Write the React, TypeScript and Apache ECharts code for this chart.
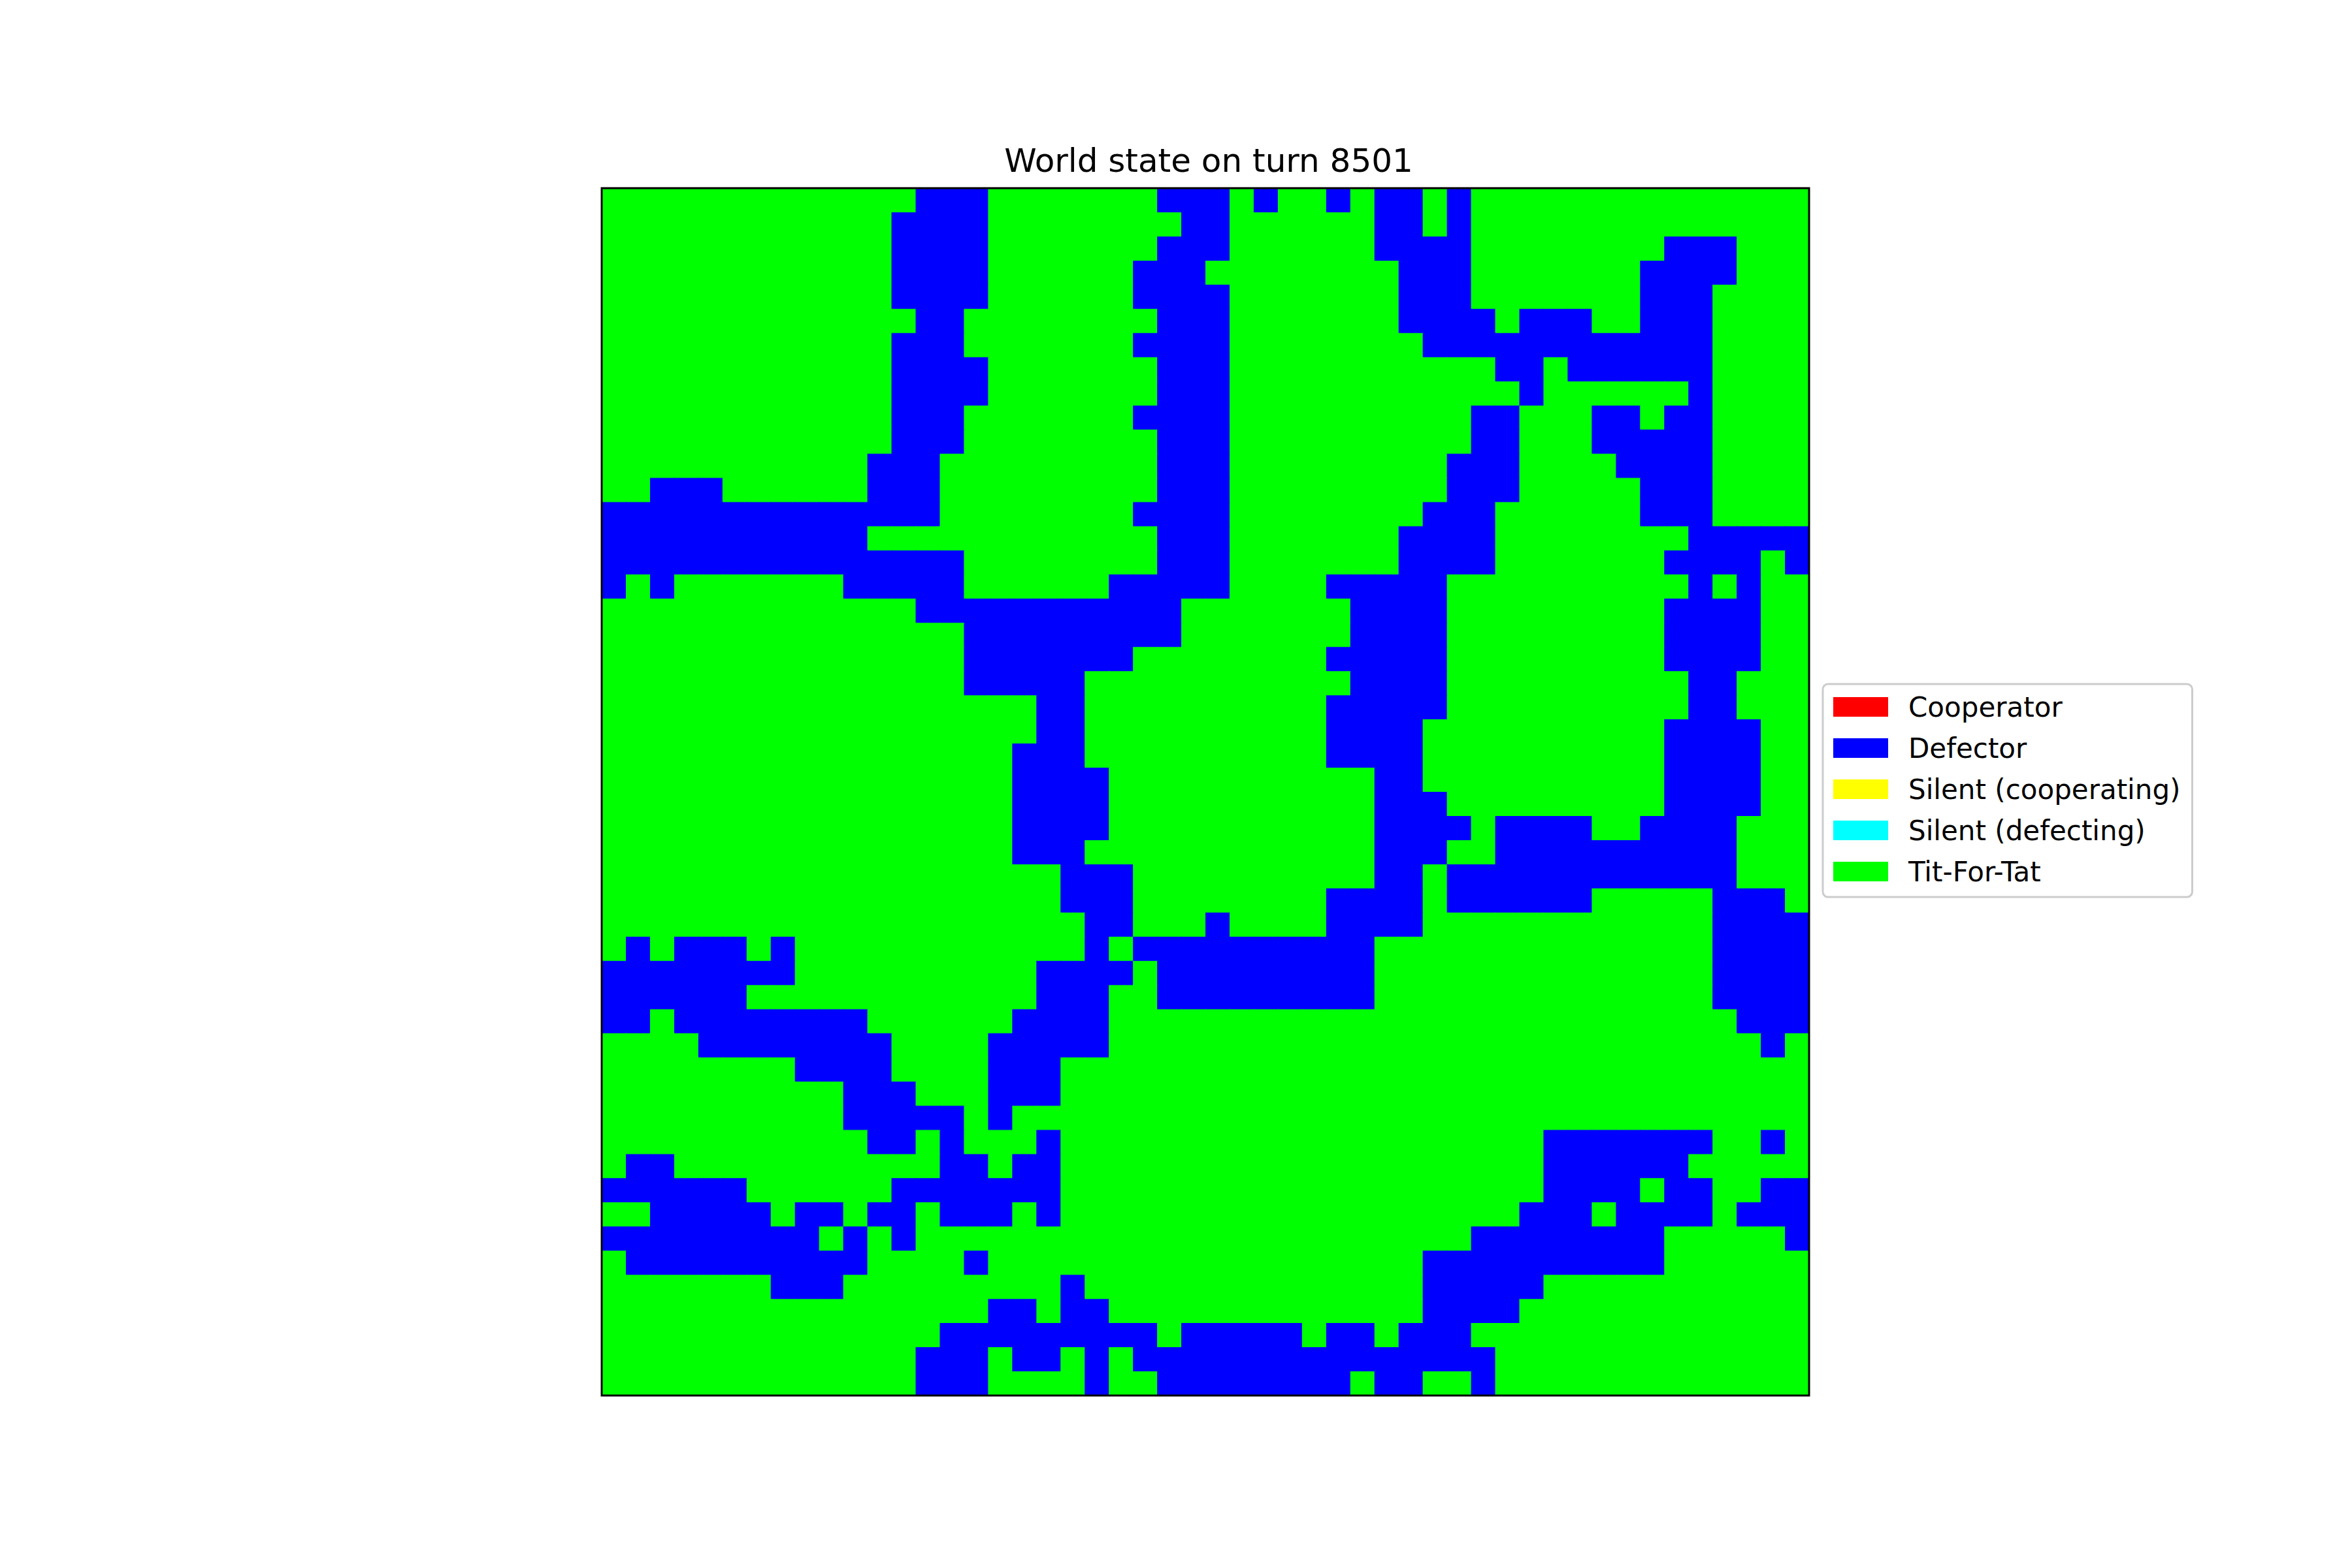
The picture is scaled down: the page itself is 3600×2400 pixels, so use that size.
import React, { useEffect, useRef } from "react";
import * as echarts from "echarts";

const TITLE = "World state on turn 8501";
const STATES = ["Cooperator", "Defector", "Silent (cooperating)", "Silent (defecting)", "Tit-For-Tat"];
const STATE_COLORS = ["#ff0000", "#0000ff", "#ffff00", "#00ffff", "#00ff00"];
const CODE_TO_STATE: Record<string, string> = { B: "Defector", G: "Tit-For-Tat" };

// 50 x 50 world, one string per row (top row first); B = Defector, G = Tit-For-Tat
const GRID_ROWS = [
  "GGGGGGGGGGGGG BBBGGGGGGGBBB GBGGBGBBGBGG GGGGGGGGGGGG",
  "GGGGGGGGGGGGB BBBGGGGGGGGBB GGGGGGBBGBGG GGGGGGGGGGGG",
  "GGGGGGGGGGGGB BBBGGGGGGGBBB GGGGGGBBBBGG GGGGGGBBBGGG",
  "GGGGGGGGGGGGB BBBGGGGGGBBBG GGGGGGGBBBGG GGGGGBBBBGGG",
  "GGGGGGGGGGGGB BBBGGGGGGBBBB GGGGGGGBBBGG GGGGGBBBGGGG",
  "GGGGGGGGGGGGG BBGGGGGGGGBBB GGGGGGGBBBBG BBBGGBBBGGGG",
  "GGGGGGGGGGGGB BBGGGGGGGBBBB GGGGGGGGBBBB BBBBBBBBGGGG",
  "GGGGGGGGGGGGB BBBGGGGGGGBBB GGGGGGGGGGGB BGBBBBBBGGGG",
  "GGGGGGGGGGGGB BBBGGGGGGGBBB GGGGGGGGGGGG BGGGGGGBGGGG",
  "GGGGGGGGGGGGB BBGGGGGGGBBBB GGGGGGGGGGBB GGGBBGBBGGGG",
  "GGGGGGGGGGGGB BBGGGGGGGGBBB GGGGGGGGGGBB GGGBBBBBGGGG",
  "GGGGGGGGGGGBB BGGGGGGGGGBBB GGGGGGGGGBBB GGGGBBBBGGGG",
  "GGBBBGGGGGGBB BGGGGGGGGGBBB GGGGGGGGGBBB GGGGGBBBGGGG",
  "BBBBBBBBBBBBB BGGGGGGGGBBBB GGGGGGGGBBBG GGGGGBBBGGGG",
  "BBBBBBBBBBBGG GGGGGGGGGGBBB GGGGGGGBBBBG GGGGGGGBBBBB",
  "BBBBBBBBBBBBB BBGGGGGGGGBBB GGGGGGGBBBBG GGGGGGBBBBGB",
  "BGBGGGGGGGBBB BBGGGGGGBBBBB GGGGBBBBBGGG GGGGGGGBGBGG",
  "GGGGGGGGGGGGG BBBBBBBBBBBGG GGGGGBBBBGGG GGGGGGBBBBGG",
  "GGGGGGGGGGGGG GGBBBBBBBBBGG GGGGGBBBBGGG GGGGGGBBBBGG",
  "GGGGGGGGGGGGG GGBBBBBBBGGGG GGGGBBBBBGGG GGGGGGBBBBGG",
  "GGGGGGGGGGGGG GGBBBBBGGGGGG GGGGGBBBBGGG GGGGGGGBBGGG",
  "GGGGGGGGGGGGG GGGGGBBGGGGGG GGGGBBBBBGGG GGGGGGGBBGGG",
  "GGGGGGGGGGGGG GGGGGBBGGGGGG GGGGBBBBGGGG GGGGGGBBBBGG",
  "GGGGGGGGGGGGG GGGGBBBGGGGGG GGGGBBBBGGGG GGGGGGBBBBGG",
  "GGGGGGGGGGGGG GGGGBBBBGGGGG GGGGGGBBGGGG GGGGGGBBBBGG",
  "GGGGGGGGGGGGG GGGGBBBBGGGGG GGGGGGBBBGGG GGGGGGBBBBGG",
  "GGGGGGGGGGGGG GGGGBBBBGGGGG GGGGGGBBBBGB BBBGGBBBBGGG",
  "GGGGGGGGGGGGG GGGGBBBGGGGGG GGGGGGBBBGGB BBBBBBBBBGGG",
  "GGGGGGGGGGGGG GGGGGGBBBGGGG GGGGGGBBGBBB BBBBBBBBBGGG",
  "GGGGGGGGGGGGG GGGGGGBBBGGGG GGGGBBBBGBBB BBBGGGGGBBBG",
  "GGGGGGGGGGGGG GGGGGGGBBGGGB GGGGBBBBGGGG GGGGGGGGBBBB",
  "GBGBBBGBGGGGG GGGGGGGBGBBBB BBBBBBGGGGGG GGGGGGGGBBBB",
  "BBBBBBBBGGGGG GGGGGBBBBGBBB BBBBBBGGGGGG GGGGGGGGBBBB",
  "BBBBBBGGGGGGG GGGGGBBBGGBBB BBBBBBGGGGGG GGGGGGGGBBBB",
  "BBGBBBBBBBBGG GGGGBBBBGGGGG GGGGGGGGGGGG GGGGGGGGGBBB",
  "GGGGBBBBBBBBG GGGBBBBBGGGGG GGGGGGGGGGGG GGGGGGGGGGBG",
  "GGGGGGGGBBBBG GGGBBBGGGGGGG GGGGGGGGGGGG GGGGGGGGGGGG",
  "GGGGGGGGGGBBB GGGBBBGGGGGGG GGGGGGGGGGGG GGGGGGGGGGGG",
  "GGGGGGGGGGBBB BBGBGGGGGGGGG GGGGGGGGGGGG GGGGGGGGGGGG",
  "GGGGGGGGGGGBB GBGGGBGGGGGGG GGGGGGGGGGGG GBBBBBBBGGBG",
  "GBBGGGGGGGGGG GBBGBBGGGGGGG GGGGGGGGGGGG GBBBBBBGGGGG",
  "BBBBBBGGGGGGB BBBBBBGGGGGGG GGGGGGGGGGGG GBBBBGBBGGBB",
  "GGBBBBBGBBGBB GBBBGBGGGGGGG GGGGGGGGGGGG BBBGBBBBGBBB",
  "BBBBBBBBBGBGB GGGGGGGGGGGGG GGGGGGGGGGBB BBBBBBGGGGGB",
  "GBBBBBBBBBBGG GGBGGGGGGGGGG GGGGGGGGBBBB BBBBBBGGGGGG",
  "GGGGGGGBBBGGG GGGGGGBGGGGGG GGGGGGGGBBBB BGGGGGGGGGGG",
  "GGGGGGGGGGGGG GGGBBGBBGGGGG GGGGGGGGBBBB GGGGGGGGGGGG",
  "GGGGGGGGGGGGG GBBBBBBBBBGBB BBBGBBGBBBGG GGGGGGGGGGGG",
  "GGGGGGGGGGGGG BBBGBBGBGBBBB BBBBBBBBBBBG GGGGGGGGGGGG",
  "GGGGGGGGGGGGG BBBGGGGBGGBBB BBBBBGBBGGBG GGGGGGGGGGGG",
];

const CELLS = GRID_ROWS.map((s) => s.replace(/ /g, ""));
const COL_CATEGORIES = CELLS[0].split("").map((_, i) => String(i));
const ROW_CATEGORIES = CELLS.map((_, i) => String(i));

const GRID_LEFT = 921;
const GRID_TOP = 288;
const GRID_SIZE = 1848;

export default function App() {
  const ref = useRef<HTMLDivElement>(null);

  useEffect(() => {
    if (!ref.current) return;
    const chart = echarts.init(ref.current, null, { renderer: "svg" });

    const worldData: number[][] = [];
    CELLS.forEach((row, r) => {
      row.split("").forEach((ch, c) => {
        worldData.push([c, r, STATES.indexOf(CODE_TO_STATE[ch])]);
      });
    });

    const legendSeries = STATES.map((name, k) => ({
      type: "scatter",
      name,
      data: [],
      itemStyle: { color: STATE_COLORS[k], opacity: 1 },
      silent: true,
    }));

    chart.setOption({
      animation: false,
      backgroundColor: "#ffffff",
      title: {
        text: TITLE,
        left: GRID_LEFT + GRID_SIZE / 2,
        textAlign: "center",
        top: 216,
        textStyle: {
          fontSize: 50,
          fontWeight: "normal",
          fontFamily: "DejaVu Sans",
          color: "#000000",
        },
      },
      grid: {
        left: GRID_LEFT,
        top: GRID_TOP,
        width: GRID_SIZE,
        height: GRID_SIZE,
        containLabel: false,
      },
      xAxis: {
        type: "category",
        data: COL_CATEGORIES,
        axisLine: { show: false },
        axisTick: { show: false },
        axisLabel: { show: false },
        splitLine: { show: false },
      },
      yAxis: {
        type: "category",
        data: ROW_CATEGORIES,
        inverse: true,
        axisLine: { show: false },
        axisTick: { show: false },
        axisLabel: { show: false },
        splitLine: { show: false },
      },
      legend: {
        data: STATES,
        orient: "vertical",
        left: 2790,
        top: 1047,
        icon: "rect",
        itemWidth: 84,
        itemHeight: 30,
        itemGap: 21,
        selectedMode: false,
        padding: [14, 18, 18, 16],
        backgroundColor: "#ffffff",
        borderColor: "#cccccc",
        borderWidth: 3,
        borderRadius: 8,
        itemStyle: { opacity: 1 },
        textStyle: {
          fontSize: 42,
          fontFamily: "DejaVu Sans",
          color: "#000000",
          padding: [0, 0, 0, 26],
        },
      },
      graphic: [
        {
          type: "rect",
          z: 100,
          silent: true,
          shape: { x: GRID_LEFT, y: GRID_TOP, width: GRID_SIZE, height: GRID_SIZE },
          style: { fill: "none", stroke: "#000000", lineWidth: 3 },
        },
      ],
      series: [
        {
          type: "custom",
          name: "World",
          data: worldData,
          silent: true,
          clip: true,
          renderItem: (params: any, api: any) => {
            const p = api.coord([api.value(0), api.value(1)]);
            const s = api.size([1, 1]);
            return {
              type: "rect",
              shape: {
                x: p[0] - s[0] / 2,
                y: p[1] - s[1] / 2,
                width: s[0] + 1,
                height: s[1] + 1,
              },
              style: { fill: STATE_COLORS[api.value(2)], stroke: null, lineWidth: 0 },
            };
          },
        },
        ...legendSeries,
      ],
    });

    return () => chart.dispose();
  }, []);

  return (
    <div
      ref={ref}
      style={{ position: "fixed", left: 0, top: 0, width: 3600, height: 2400, background: "#ffffff" }}
    />
  );
}
